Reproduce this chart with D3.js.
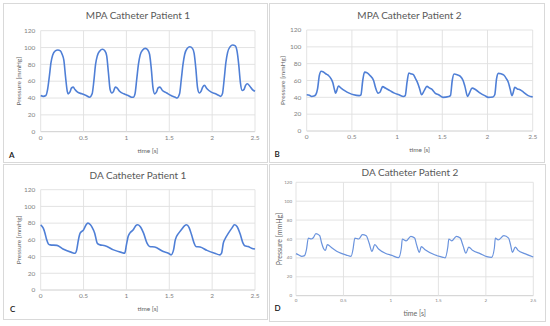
<!DOCTYPE html>
<html>
<head>
<meta charset="utf-8">
<script src="https://cdn.jsdelivr.net/npm/d3@7"></script>
<style>
  body { margin: 0; background: #fff; }
  svg { display: block; font-family: Lato, "Open Sans", sans-serif; }
</style>
</head>
<body>
<svg width="550" height="326"></svg>
<script>
// pressure traces, [time s, pressure mmHg]
const mpaPatient1 = [
  [0,43],[0.03,42],[0.06,43],[0.08,50],[0.1,65],[0.12,82],[0.14,91],[0.17,96],[0.2,97],[0.23,96],[0.25,92],[0.27,85],[0.29,65],[0.31,48],[0.32,45],[0.34,47],[0.36,52],[0.38,53],[0.4,50],[0.43,47],[0.48,45],[0.53,43],[0.57,41],
  [0.6,45],[0.62,60],[0.64,80],[0.66,90],[0.69,96],[0.72,98],[0.75,96],[0.77,90],[0.79,70],[0.81,50],[0.83,46],[0.85,48],[0.87,53],[0.89,52],[0.92,48],[0.97,45],[1.02,43],[1.06,41],[1.08,41],
  [1.1,45],[1.12,62],[1.14,80],[1.16,91],[1.19,97],[1.22,99],[1.25,97],[1.27,92],[1.29,75],[1.31,52],[1.33,45],[1.35,47],[1.37,52],[1.39,53],[1.42,49],[1.47,46],[1.52,43],[1.57,41],[1.59,40],
  [1.62,45],[1.64,62],[1.66,80],[1.68,92],[1.71,99],[1.74,101],[1.77,99],[1.79,93],[1.81,75],[1.83,52],[1.85,46],[1.87,48],[1.89,53],[1.91,55],[1.94,51],[1.99,47],[2.04,45],[2.08,43],[2.1,42],
  [2.12,45],[2.14,62],[2.16,82],[2.18,94],[2.21,101],[2.24,103],[2.27,102],[2.29,96],[2.31,80],[2.33,58],[2.35,49],[2.37,50],[2.39,55],[2.41,57],[2.44,54],[2.47,50],[2.5,48]
];

const mpaPatient2 = [
  [0,43],[0.03,42.5],[0.055,41],[0.08,41.5],[0.1,43],[0.12,50],[0.14,66],[0.16,71],[0.18,70.5],[0.21,68],[0.24,66],[0.27,62],[0.29,57],[0.31,48],[0.32,45],[0.33,47],[0.35,53.5],[0.38,51],[0.42,48],[0.47,45],[0.52,43],[0.58,42],[0.6,43],
  [0.62,60],[0.64,70],[0.67,69],[0.7,66],[0.74,60],[0.76,52],[0.79,45],[0.81,46],[0.84,52.7],[0.87,51],[0.92,48],[0.97,45],[1.02,43],[1.07,41],[1.09,42],
  [1.11,58],[1.13,69],[1.15,68],[1.18,67],[1.2,63],[1.22,59],[1.25,50],[1.27,43],[1.3,48],[1.33,53],[1.36,51],[1.38,50],[1.42,45],[1.46,43],[1.51,40],[1.57,41],[1.59,42],
  [1.61,60],[1.63,67.7],[1.67,66.5],[1.7,65],[1.73,60],[1.75,53],[1.78,41],[1.8,45],[1.83,51],[1.87,49],[1.92,45],[1.97,42],[2.01,40],[2.06,40.5],[2.08,43],
  [2.1,62],[2.12,68.5],[2.15,68],[2.18,66.5],[2.21,62],[2.23,58],[2.25,50],[2.27,42],[2.29,48],[2.3,52],[2.33,50],[2.36,49],[2.4,46],[2.45,42],[2.5,40.5]
];

const daPatient1 = [
  [0,78],[0.03,74],[0.05,68],[0.07,60],[0.09,55],[0.11,54],[0.19,53.4],[0.26,49],[0.36,45],[0.4,44],[0.42,48],[0.44,60],[0.46,68],[0.5,72],[0.53,78],[0.55,80],[0.58,78],[0.6,75],[0.63,68],[0.66,56],[0.69,54],[0.75,53],[0.85,48],[0.94,45],[0.98,44],
  [1.0,54],[1.02,64],[1.04,68],[1.08,72],[1.11,77],[1.13,78],[1.16,76],[1.2,68],[1.24,56],[1.27,52],[1.33,51.4],[1.43,46],[1.49,44],[1.52,42],[1.55,48],
  [1.57,60],[1.61,68],[1.64,72],[1.68,77],[1.7,78],[1.73,75],[1.76,66],[1.79,56],[1.81,52],[1.86,51.4],[1.94,47.4],[2.03,44],[2.09,42],[2.11,44],
  [2.13,56],[2.15,61],[2.19,68],[2.23,74],[2.26,78],[2.29,76],[2.33,66],[2.36,56],[2.38,53],[2.42,52],[2.46,50],[2.5,49]
];

const daPatient2 = [
  [0,44.5],[0.03,43],[0.06,41.6],[0.09,42.4],[0.11,48.7],[0.13,61],[0.16,60],[0.18,61],[0.21,65.6],[0.23,65],[0.25,63.5],[0.27,55.8],[0.29,50],[0.31,48],[0.33,54],[0.38,50.5],[0.45,45.9],[0.53,43],[0.58,41.6],
  [0.6,48.7],[0.62,61],[0.66,60],[0.7,64.6],[0.74,63.5],[0.77,55.8],[0.8,47],[0.83,54],[0.87,49.4],[0.94,45],[1.01,42.7],[1.08,40.2],
  [1.11,50.5],[1.12,60],[1.16,58],[1.21,62.8],[1.25,61],[1.27,54],[1.3,45.9],[1.32,52],[1.36,48.7],[1.46,43.4],[1.55,40.6],[1.57,40],
  [1.6,52],[1.61,60],[1.64,58],[1.69,62.8],[1.73,61],[1.76,52.8],[1.79,45],[1.82,51.5],[1.86,48],[1.94,44.5],[2.01,41.3],[2.06,40.6],
  [2.09,50.5],[2.1,61],[2.13,59],[2.19,63.5],[2.24,61],[2.26,54],[2.28,45.9],[2.31,51.5],[2.34,48],[2.41,44.5],[2.5,41]
];

const xTicks = [0, 0.5, 1, 1.5, 2, 2.5];
const yTicks = [0, 20, 40, 60, 80, 100, 120];

const panels = [
  { title: "MPA Catheter Patient 1", letter: "A", data: mpaPatient1,
    box: [3, 3, 264, 159], plot: [40.7, 255, 30.7, 131.7],
    titleY: 19, tickSize: 6.5, labelSize: 6.5, yLabelX: 18.5, letterXY: [9, 157.5],
    lineW: 1.6, color: "#4f7fd6" },
  { title: "MPA Catheter Patient 2", letter: "B", data: mpaPatient2,
    box: [269, 3, 275, 159], plot: [306.7, 532.7, 30, 131],
    titleY: 19, tickSize: 6.5, labelSize: 6.5, yLabelX: 283, letterXY: [274.5, 156.5],
    lineW: 1.6, color: "#4f7fd6" },
  { title: "DA Catheter Patient 1", letter: "C", data: daPatient1,
    box: [3, 164, 264, 155], plot: [40.7, 255, 189.7, 290],
    titleY: 179, tickSize: 6.5, labelSize: 6.5, yLabelX: 18.5, letterXY: [10, 311.5],
    lineW: 1.6, color: "#4f7fd6" },
  { title: "DA Catheter Patient 2", letter: "D", data: daPatient2,
    box: [269, 164, 276, 157], plot: [296, 533.3, 182.3, 295.7],
    titleY: 175.5, tickSize: 4.5, labelSize: 7, yLabelX: 279.5, letterXY: [274.5, 310.5],
    lineW: 1.2, color: "#6a93dd" }
];

const svg = d3.select("svg");

panels.forEach((p) => {
  const [bx, by, bw, bh] = p.box;
  const [px0, px1, pyTop, pyBot] = p.plot;
  const g = svg.append("g");

  g.append("rect")
    .attr("x", bx + 0.5).attr("y", by + 0.5)
    .attr("width", bw).attr("height", bh)
    .attr("fill", "#fff").attr("stroke", "#d9d9d9").attr("stroke-width", 1);

  const x = d3.scaleLinear().domain([0, 2.5]).range([px0, px1]);
  const y = d3.scaleLinear().domain([0, 120]).range([pyBot, pyTop]);

  // gridlines
  g.append("g").selectAll("line.h").data(yTicks).join("line")
    .attr("x1", px0).attr("x2", px1)
    .attr("y1", (d) => y(d)).attr("y2", (d) => y(d))
    .attr("stroke", (d) => (d === 0 ? "#c8c8c8" : "#e0e0e0"))
    .attr("stroke-width", 0.9);
  g.append("g").selectAll("line.v").data(xTicks).join("line")
    .attr("x1", (d) => x(d)).attr("x2", (d) => x(d))
    .attr("y1", pyTop).attr("y2", pyBot)
    .attr("stroke", "#e0e0e0").attr("stroke-width", 0.9);

  // tick labels
  g.append("g").selectAll("text").data(yTicks).join("text")
    .attr("x", px0 - (p.tickSize < 5 ? 4 : 5.5))
    .attr("y", (d) => y(d))
    .attr("dy", "0.35em")
    .attr("text-anchor", "end")
    .attr("font-size", p.tickSize)
    .attr("fill", "#7f7f7f")
    .text((d) => d);
  g.append("g").selectAll("text").data(xTicks).join("text")
    .attr("x", (d) => x(d))
    .attr("y", pyBot + (p.tickSize < 5 ? 6.5 : 8))
    .attr("text-anchor", "middle")
    .attr("font-size", p.tickSize)
    .attr("fill", "#7f7f7f")
    .text((d) => d);

  // axis titles
  g.append("text")
    .attr("x", (px0 + px1) / 2)
    .attr("y", p.letter === "D" ? 315.5 : pyBot + 21)
    .attr("text-anchor", "middle")
    .attr("font-size", p.labelSize)
    .attr("fill", "#666")
    .text("time [s]");
  g.append("text")
    .attr("transform", `translate(${p.yLabelX},${(pyTop + pyBot) / 2}) rotate(-90)`)
    .attr("text-anchor", "middle")
    .attr("dy", "0.35em")
    .attr("font-size", p.labelSize)
    .attr("fill", "#666")
    .text("Pressure [mmHg]");

  // chart title
  g.append("text")
    .attr("x", bx + bw / 2 + 3)
    .attr("y", p.titleY)
    .attr("text-anchor", "middle")
    .attr("font-size", 10)
    .attr("fill", "#595959")
    .text(p.title);

  // trace
  const line = d3.line()
    .x((d) => x(d[0]))
    .y((d) => y(d[1]))
    .curve(d3.curveMonotoneX);
  g.append("path")
    .datum(p.data)
    .attr("d", line)
    .attr("fill", "none")
    .attr("stroke", p.color)
    .attr("stroke-width", p.lineW)
    .attr("stroke-linejoin", "round");

  // panel letter
  g.append("text")
    .attr("x", p.letterXY[0]).attr("y", p.letterXY[1])
    .attr("font-size", 8)
    .attr("font-weight", 600)
    .attr("fill", "#111")
    .text(p.letter);
});
</script>
</body>
</html>
